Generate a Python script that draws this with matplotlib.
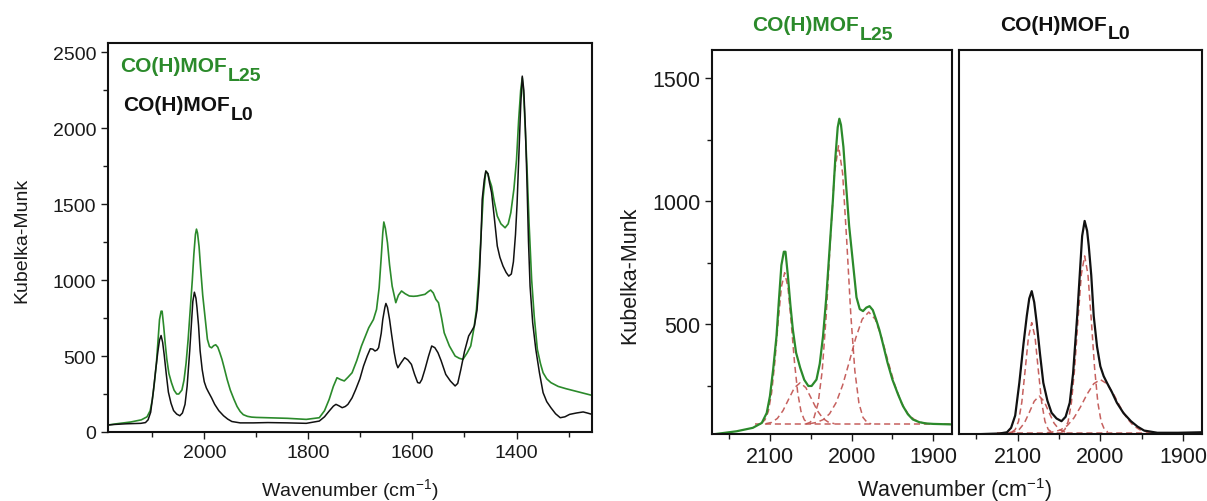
import matplotlib
matplotlib.use("Agg")
import matplotlib.pyplot as plt
from matplotlib.ticker import MultipleLocator

plt.rcParams["font.family"] = ["Liberation Sans", "DejaVu Sans"]
plt.rcParams["mathtext.fontset"] = "custom"
plt.rcParams["mathtext.rm"] = "Liberation Sans"
plt.rcParams["mathtext.it"] = "Liberation Sans:italic"
plt.rcParams["mathtext.bf"] = "Liberation Sans:bold"

# ---------------- DRIFTS spectra (wavenumber in cm-1, Kubelka-Munk units) ----------------
wn_L0 = [2185, 2171, 2150, 2122, 2113, 2108, 2103, 2098, 2093, 2089, 2086, 2083, 2080, 2077,
         2073, 2069, 2064, 2059, 2053, 2047, 2042, 2037, 2033, 2030, 2028, 2025, 2022, 2019,
         2016, 2014, 2011, 2008, 2004, 2000, 1996, 1992, 1986, 1980, 1972, 1963, 1955, 1947,
         1931, 1906, 1878, 1840, 1804, 1779, 1769, 1760, 1752, 1747, 1741, 1735, 1729, 1724,
         1716, 1709, 1701, 1694, 1687, 1681, 1676, 1672, 1668, 1665, 1660, 1657, 1653, 1651,
         1648, 1644, 1640, 1635, 1631, 1628, 1622, 1615, 1609, 1602, 1596, 1590, 1586, 1582,
         1576, 1569, 1563, 1557, 1551, 1545, 1536, 1527, 1518, 1513, 1507, 1500, 1492, 1487,
         1481, 1476, 1472, 1468, 1466, 1462, 1459, 1455, 1452, 1448, 1443, 1437, 1432, 1426,
         1420, 1415, 1410, 1406, 1402, 1399, 1396, 1392, 1389, 1386, 1383, 1380, 1377, 1374,
         1369, 1363, 1356, 1349, 1342, 1334, 1325, 1316, 1307, 1298, 1285, 1272, 1264, 1255]
km_L0 = [46, 50, 54, 57, 62, 80, 130, 263, 420, 534, 605, 635, 590, 507,
         380, 263, 190, 141, 118, 107, 125, 182, 300, 440, 534, 700, 859, 920,
         880, 818, 700, 534, 410, 330, 290, 263, 225, 182, 140, 107, 85, 69,
         60, 60, 62, 60, 57, 72, 100, 138, 170, 182, 172, 160, 168, 182,
         225, 280, 350, 434, 500, 548, 545, 533, 540, 555, 650, 741, 820, 846,
         820, 741, 640, 522, 450, 423, 455, 489, 475, 445, 380, 325, 322, 345,
         412, 500, 566, 555, 522, 470, 379, 335, 303, 320, 412, 530, 632, 660,
         697, 800, 982, 1300, 1530, 1660, 1717, 1700, 1640, 1575, 1420, 1224, 1150, 1092,
         1050, 1026, 1040, 1120, 1300, 1500, 1780, 2150, 2342, 2250, 2000, 1650, 1250, 960,
         720, 544, 390, 259, 200, 160, 120, 94, 100, 116, 125, 132, 125, 116]

wn_L25 = [2185, 2171, 2155, 2141, 2121, 2110, 2104, 2100, 2096, 2092, 2089, 2086, 2083, 2081,
          2078, 2075, 2072, 2068, 2063, 2058, 2053, 2049, 2043, 2039, 2035, 2031, 2027, 2023,
          2020, 2017, 2015, 2013, 2010, 2007, 2003, 1998, 1994, 1990, 1986, 1982, 1978, 1974,
          1970, 1966, 1962, 1956, 1950, 1943, 1937, 1931, 1925, 1917, 1909, 1900, 1878, 1840,
          1804, 1779, 1769, 1760, 1752, 1745, 1738, 1731, 1724, 1716, 1707, 1698, 1684, 1675,
          1669, 1664, 1660, 1657, 1655, 1652, 1648, 1644, 1639, 1632, 1627, 1621, 1614, 1606,
          1598, 1591, 1584, 1576, 1569, 1565, 1560, 1555, 1550, 1544, 1539, 1529, 1518, 1510,
          1503, 1495, 1488, 1482, 1477, 1472, 1468, 1464, 1459, 1455, 1452, 1448, 1443, 1437,
          1430, 1422, 1416, 1411, 1405, 1400, 1396, 1392, 1389, 1386, 1383, 1380, 1376, 1371,
          1366, 1360, 1354, 1349, 1342, 1334, 1320, 1305, 1290, 1275, 1265, 1255]
km_L25 = [46, 53, 60, 66, 80, 100, 140, 209, 320, 452, 600, 740, 795, 795,
          696, 580, 480, 385, 324, 275, 250, 250, 276, 340, 452, 610, 805, 1000,
          1171, 1300, 1335, 1310, 1220, 1076, 900, 737, 610, 562, 554, 568, 574, 558,
          520, 478, 426, 345, 276, 215, 168, 135, 114, 103, 98, 96, 94, 90,
          83, 94, 140, 215, 300, 357, 345, 336, 360, 390, 470, 566, 686, 740,
          807, 950, 1150, 1311, 1382, 1340, 1245, 1100, 960, 851, 900, 928, 910, 895,
          893, 895, 900, 906, 925, 934, 915, 873, 851, 750, 653, 566, 500, 485,
          478, 520, 566, 680, 807, 1050, 1311, 1550, 1717, 1700, 1660, 1618, 1520, 1421,
          1370, 1344, 1370, 1443, 1600, 1794, 2050, 2250, 2331, 2200, 1980, 1750, 1380, 1004,
          760, 544, 450, 390, 350, 325, 300, 285, 272, 259, 250, 241]

# ---------------- Fitted components of the carbonyl region ----------------
# CO(H)MOF L25
base25_wn = [2118, 1877]
base25_km = [95, 95]
c1_25_wn = [2110, 2106, 2102, 2098, 2094, 2090, 2086, 2082, 2078, 2074, 2070, 2066, 2062, 2058, 2054]
c1_25_km = [100, 113, 147, 222, 348, 509, 652, 710, 652, 509, 348, 222, 147, 113, 100]
c2_25_wn = [2105, 2098, 2091, 2084, 2077, 2070, 2063, 2056, 2049, 2042, 2035, 2028, 2021]
c2_25_km = [97, 102, 118, 150, 197, 243, 263, 243, 197, 150, 118, 102, 97]
c3_25_wn = [2056, 2051, 2046, 2041, 2036, 2031, 2026, 2021, 2016, 2011, 2006, 2001, 1996, 1991, 1986, 1981, 1976]
c3_25_km = [96, 102, 122, 180, 311, 541, 842, 1114, 1225, 1114, 842, 541, 311, 180, 122, 102, 96]
c4_25_wn = [2051, 2043, 2035, 2027, 2019, 2011, 2003, 1995, 1987, 1979, 1971, 1963, 1955, 1947,
            1939, 1931, 1923, 1915, 1907]
c4_25_km = [97, 102, 113, 137, 182, 253, 346, 444, 521, 550, 521, 444, 346, 253,
            182, 137, 113, 102, 97]

# CO(H)MOF L0
base0_wn = [2125, 1925]
base0_km = [60, 60]
c1_0_wn = [2107, 2103, 2099, 2095, 2091, 2087, 2083, 2079, 2075, 2071, 2067, 2063, 2059]
c1_0_km = [63, 73, 106, 184, 313, 448, 507, 448, 313, 184, 106, 73, 63]
c2_0_wn = [2110, 2104, 2098, 2092, 2086, 2080, 2074, 2068, 2062, 2056, 2050, 2044, 2038]
c2_0_km = [61, 64, 74, 99, 142, 188, 209, 188, 142, 99, 74, 64, 61]
c3_0_wn = [2047, 2043, 2039, 2035, 2031, 2027, 2023, 2019, 2015, 2011, 2007, 2003, 1999, 1995, 1991]
c3_0_km = [63, 73, 105, 182, 325, 521, 703, 778, 703, 521, 325, 182, 105, 73, 63]
c4_0_wn = [2064, 2056, 2048, 2040, 2032, 2024, 2016, 2008, 2000, 1992, 1984, 1976, 1968, 1960,
           1952, 1944, 1936]
c4_0_km = [61, 64, 72, 89, 120, 165, 217, 259, 276, 259, 217, 165, 120, 89,
           72, 64, 61]

GREEN = "#2b8a2b"
BLACK = "#111111"
FIT = "#c0504d"
TXT = "#1a1a1a"

W, H = 1207, 502
fig = plt.figure(figsize=(W / 100, H / 100), dpi=100)


def px_axes(x0, y0, x1, y1):
    return fig.add_axes([x0 / W, 1 - y1 / H, (x1 - x0) / W, (y1 - y0) / H])


def style(ax, size):
    for s in ax.spines.values():
        s.set_linewidth(1.5)
        s.set_color(BLACK)
    ax.tick_params(which="both", direction="out", top=False, right=False,
                   labelsize=size, colors=TXT, width=1.0)
    ax.tick_params(which="major", length=5)
    ax.tick_params(which="minor", length=3.5)


# ---------------- Full spectra ----------------
ax = px_axes(108, 44, 592, 433)
ax.plot(wn_L25, km_L25, color=GREEN, lw=1.2)
ax.plot(wn_L0, km_L0, color=BLACK, lw=1.1)
ax.set_xlim(2185, 1255)
ax.set_ylim(0, 2560)
ax.xaxis.set_major_locator(MultipleLocator(200))
ax.xaxis.set_minor_locator(MultipleLocator(100))
ax.yaxis.set_major_locator(MultipleLocator(500))
ax.yaxis.set_minor_locator(MultipleLocator(250))
style(ax, 14)

# ---------------- Deconvolution panels ----------------
axa = px_axes(712, 51, 952, 435)
axb = px_axes(959, 51, 1202, 435)
for a in (axa, axb):
    a.set_xlim(2171, 1877)
    a.set_ylim(55, 1614)
    a.xaxis.set_major_locator(MultipleLocator(100))
    a.xaxis.set_minor_locator(MultipleLocator(50))
    a.yaxis.set_major_locator(MultipleLocator(500))
    a.yaxis.set_minor_locator(MultipleLocator(250))
    style(a, 15.5)
axb.tick_params(axis="y", which="both", left=False, labelleft=False)

dash = dict(color=FIT, lw=1.1, ls=(0, (4, 2.5)), alpha=0.9)
for wn, km in [(base25_wn, base25_km), (c1_25_wn, c1_25_km), (c2_25_wn, c2_25_km),
               (c3_25_wn, c3_25_km), (c4_25_wn, c4_25_km)]:
    axa.plot(wn, km, **dash)
axa.plot(wn_L25, km_L25, color=GREEN, lw=1.6)

for wn, km in [(base0_wn, base0_km), (c1_0_wn, c1_0_km), (c2_0_wn, c2_0_km),
               (c3_0_wn, c3_0_km), (c4_0_wn, c4_0_km)]:
    axb.plot(wn, km, **dash)
axb.plot(wn_L0, km_L0, color=BLACK, lw=1.6)

# ---------------- Axis labels ----------------
fig.text(22 / W, 1 - 240 / H, "Kubelka-Munk", rotation=90, fontsize=14, color=TXT,
         ha="center", va="center")
fig.text(350 / W, 1 - 490 / H, r"Wavenumber (cm$^{\mathregular{-1}}$)", fontsize=14,
         color=TXT, ha="center", va="center")
fig.text(630 / W, 1 - 275 / H, "Kubelka-Munk", rotation=90, fontsize=15.5, color=TXT,
         ha="center", va="center")
fig.text(955 / W, 1 - 490 / H, r"Wavenumber (cm$^{\mathregular{-1}}$)", fontsize=15.5,
         color=TXT, ha="center", va="center")

# ---------------- Sample names with subscripts ----------------
renderer = fig.canvas.get_renderer()


def sample_name(x_px, base_px, main, sub, color, size, sub_size, drop_px):
    t = fig.text(x_px / W, 1 - base_px / H, main, color=color, fontsize=size,
                 fontweight="bold", ha="left", va="baseline")
    bb = t.get_window_extent(renderer)
    fig.text((bb.x1 + 1) / W, 1 - (base_px + drop_px) / H, sub, color=color,
             fontsize=sub_size, fontweight="bold", ha="left", va="baseline")


sample_name(120, 72, "CO(H)MOF", "L25", GREEN, 15, 14, 9)
sample_name(123, 111, "CO(H)MOF", "L0", BLACK, 15, 14, 9)
sample_name(752, 31, "CO(H)MOF", "L25", GREEN, 15, 14, 9)
sample_name(1000, 31, "CO(H)MOF", "L0", BLACK, 15, 14, 8)

fig.savefig("out.png", dpi=100)
